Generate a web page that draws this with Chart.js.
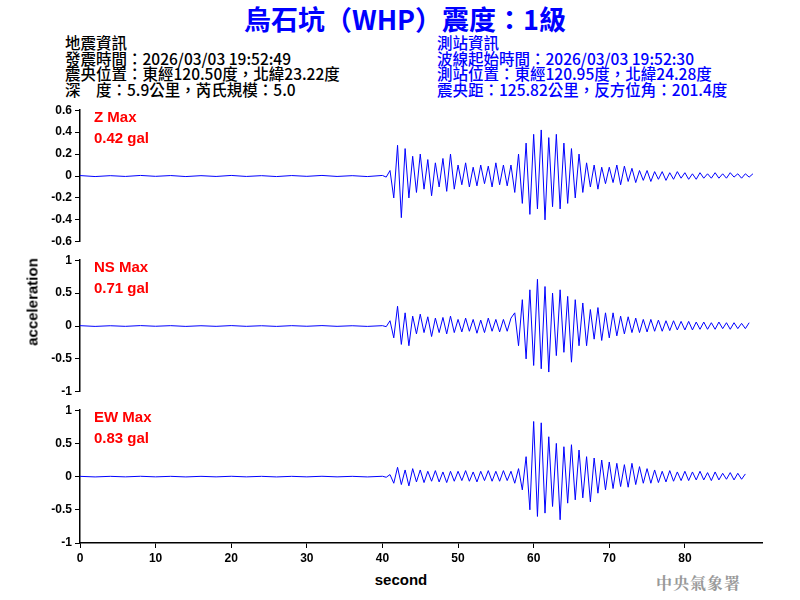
<!DOCTYPE html>
<html><head><meta charset="utf-8">
<script src="https://cdn.jsdelivr.net/npm/chart.js@4"></script>
<style>
body{margin:0;width:800px;height:600px;background:#fff;position:relative;overflow:hidden;font-family:"Liberation Sans",Arial,sans-serif}
.t{position:absolute;white-space:nowrap}
.h{font-family:"Noto Sans CJK TC";font-size:15.5px;font-weight:500;line-height:15.7px}
.m{color:#f00;font-weight:bold;font-size:15px}
canvas{position:absolute;left:0}
</style></head><body>
<div class="t" style="left:0;width:810px;top:1px;text-align:center;color:#0000ff;font-family:'Noto Sans CJK TC';font-weight:bold;font-size:27px;line-height:36px">烏石坑（WHP）震度：1級</div>
<div class="t h" style="left:65px;top:35px;color:#000">地震資訊<br>發震時間：2026/03/03 19:52:49<br>震央位置：東經120.50度，北緯23.22度<br>深　度：5.9公里，芮氏規模：5.0</div>
<div class="t h" style="left:437px;top:35px;color:#0000ff">測站資訊<br>波線起始時間：2026/03/03 19:52:30<br>測站位置：東經120.95度，北緯24.28度<br>震央距：125.82公里，反方位角：201.4度</div>
<canvas id="c1" width="800" height="152" style="top:100px;width:800px;height:152px"></canvas>
<canvas id="c2" width="800" height="152" style="top:250px;width:800px;height:152px"></canvas>
<canvas id="c3" width="800" height="170" style="top:400px;width:800px;height:170px"></canvas>
<div class="t m" style="left:94px;top:108px">Z Max<br><span style="line-height:26px">0.42 gal</span></div>
<div class="t m" style="left:94px;top:258px">NS Max<br><span style="line-height:26px">0.71 gal</span></div>
<div class="t m" style="left:94px;top:408px">EW Max<br><span style="line-height:26px">0.83 gal</span></div>
<div class="t" style="left:32px;top:302px;transform:translate(-50%,-50%) rotate(-90deg);font-size:15px;font-weight:bold">acceleration</div>
<div class="t" style="left:401px;top:571px;transform:translateX(-50%);font-size:15px;font-weight:bold">second</div>
<div class="t" style="left:656px;top:571px;color:#999;font-family:'Noto Serif CJK TC','Noto Sans CJK TC';font-weight:bold;font-size:16px;letter-spacing:1px">中央氣象署</div>
<script>
// pre-event noise, every 2 s from 0 to 38 s
const preZ=[0.004,-0.005,0.003,-0.004,0.005,-0.003,0.004,-0.005,0.003,-0.004,0.005,-0.004,0.003,-0.005,0.004,-0.003,0.005,-0.004,0.003,-0.005];
const preNS=[0.005,-0.006,0.004,-0.005,0.006,-0.004,0.005,-0.006,0.004,-0.005,0.006,-0.005,0.004,-0.006,0.005,-0.004,0.006,-0.005,0.004,-0.006];
const preEW=[0.004,-0.005,0.004,-0.004,0.005,-0.004,0.004,-0.005,0.004,-0.004,0.005,-0.004,0.004,-0.005,0.004,-0.004,0.005,-0.004,0.004,-0.005];
// event, every 0.5 s from 40 to 90 s
const zVals=[0.005,-0.01,0.05,-0.2,0.28,-0.38,0.25,-0.2,0.18,-0.15,0.2,-0.12,0.15,-0.18,0.12,-0.1,0.16,-0.14,0.2,-0.12,
0.1,-0.08,0.12,-0.1,0.08,-0.09,0.1,-0.07,0.09,-0.1,0.12,-0.08,0.1,-0.09,0.1,-0.15,0.2,-0.25,0.3,-0.35,0.38,-0.3,
0.42,-0.4,0.35,-0.28,0.38,-0.3,0.3,-0.25,0.25,-0.2,0.2,-0.15,0.12,-0.1,0.1,-0.12,0.08,-0.07,0.08,-0.06,
0.1,-0.08,0.09,-0.05,0.07,-0.06,0.05,-0.04,0.05,-0.05,0.04,-0.03,0.04,-0.04,0.03,-0.03,0.04,-0.02,0.03,-0.03,
0.02,-0.03,0.03,-0.02,0.02,-0.02,0.03,-0.02,0.02,-0.02,0.03,-0.01,0.02,-0.02,0.02,-0.01,0.02];
const nsVals=[0.005,-0.01,0.08,-0.18,0.3,-0.28,0.2,-0.3,0.15,-0.12,0.18,-0.1,0.14,-0.16,0.12,-0.1,0.13,-0.12,0.15,-0.1,
0.1,-0.09,0.12,-0.08,0.1,-0.11,0.09,-0.1,0.12,-0.08,0.1,-0.09,0.1,-0.08,0.12,0.2,-0.3,0.4,-0.5,0.55,-0.6,0.71,-0.65,
0.6,-0.7,0.5,-0.45,0.55,-0.4,0.45,-0.55,0.4,-0.3,0.35,-0.3,0.25,-0.2,0.28,-0.22,0.2,-0.18,0.2,-0.15,
0.15,-0.12,0.14,-0.1,0.12,-0.1,0.1,-0.09,0.1,-0.08,0.09,-0.08,0.08,-0.07,0.08,-0.06,0.07,-0.06,0.07,-0.06,
0.06,-0.05,0.06,-0.05,0.05,-0.05,0.06,-0.04,0.05,-0.05,0.05,-0.04,0.04,-0.04,0.05];
const ewVals=[0.005,-0.01,0.03,-0.1,0.14,-0.12,0.1,-0.14,0.12,-0.08,0.1,-0.09,0.08,-0.07,0.09,-0.08,0.07,-0.09,0.08,-0.07,
0.08,-0.06,0.09,-0.07,0.07,-0.08,0.08,-0.06,0.09,-0.07,0.08,-0.07,0.09,-0.06,0.08,-0.1,0.12,-0.2,0.3,-0.5,0.83,-0.6,0.81,-0.55,
0.6,-0.45,0.5,-0.65,0.45,-0.4,0.48,-0.35,0.4,-0.32,0.3,-0.38,0.28,-0.25,0.25,-0.2,0.22,-0.18,0.2,-0.15,
0.18,-0.16,0.2,-0.12,0.15,-0.1,0.12,-0.1,0.1,-0.09,0.08,-0.08,0.09,-0.07,0.07,-0.06,0.08,-0.06,0.07,-0.05,
0.08,-0.05,0.06,-0.06,0.07,-0.05,0.05,-0.04,0.06,-0.05,0.05,-0.04,0.04];
const xTicks=[0,10,20,30,40,50,60,70,80];

function series(pre,ev){const d=[];pre.forEach((v,i)=>d.push({x:i*2,y:v}));ev.forEach((v,i)=>d.push({x:40+i*0.5,y:v}));return d;}
const tickFont={family:'"Liberation Sans",Arial',size:12,weight:'bold'};
function make(id,data,lim,step,showX){
  new Chart(document.getElementById(id),{type:'line',
    data:{datasets:[{data:data,borderColor:'#0000ff',borderWidth:1,pointRadius:0,tension:0}]},
    options:{responsive:false,animation:false,events:[],
      layout:{padding:{top:8,bottom:showX?0:8,right:38,left:0}},
      plugins:{legend:{display:false},tooltip:{enabled:false}},
      scales:{
        x:{type:'linear',min:0,max:90.2,display:showX,
          border:{color:'#000',width:1.5},
          afterBuildTicks:s=>{s.ticks=xTicks.map(v=>({value:v}));},
          afterFit:s=>{if(showX)s.height=27;},
          ticks:{color:'#000',font:tickFont,maxRotation:0,autoSkip:false},
          grid:{display:true,drawOnChartArea:false,color:'#000',tickLength:5}},
        y:{min:-lim,max:lim,afterFit:s=>{s.width=80;},
          border:{color:'#000',width:1.5},
          grid:{display:true,drawOnChartArea:false,color:'#000',tickLength:5},
          ticks:{stepSize:step,color:'#000',font:tickFont,callback:v=>String(Math.round(v*10)/10)}}
      }}});
}
make('c1',series(preZ,zVals),0.6,0.2,false);
make('c2',series(preNS,nsVals),1,0.5,false);
make('c3',series(preEW,ewVals),1,0.5,true);
</script></body></html>
